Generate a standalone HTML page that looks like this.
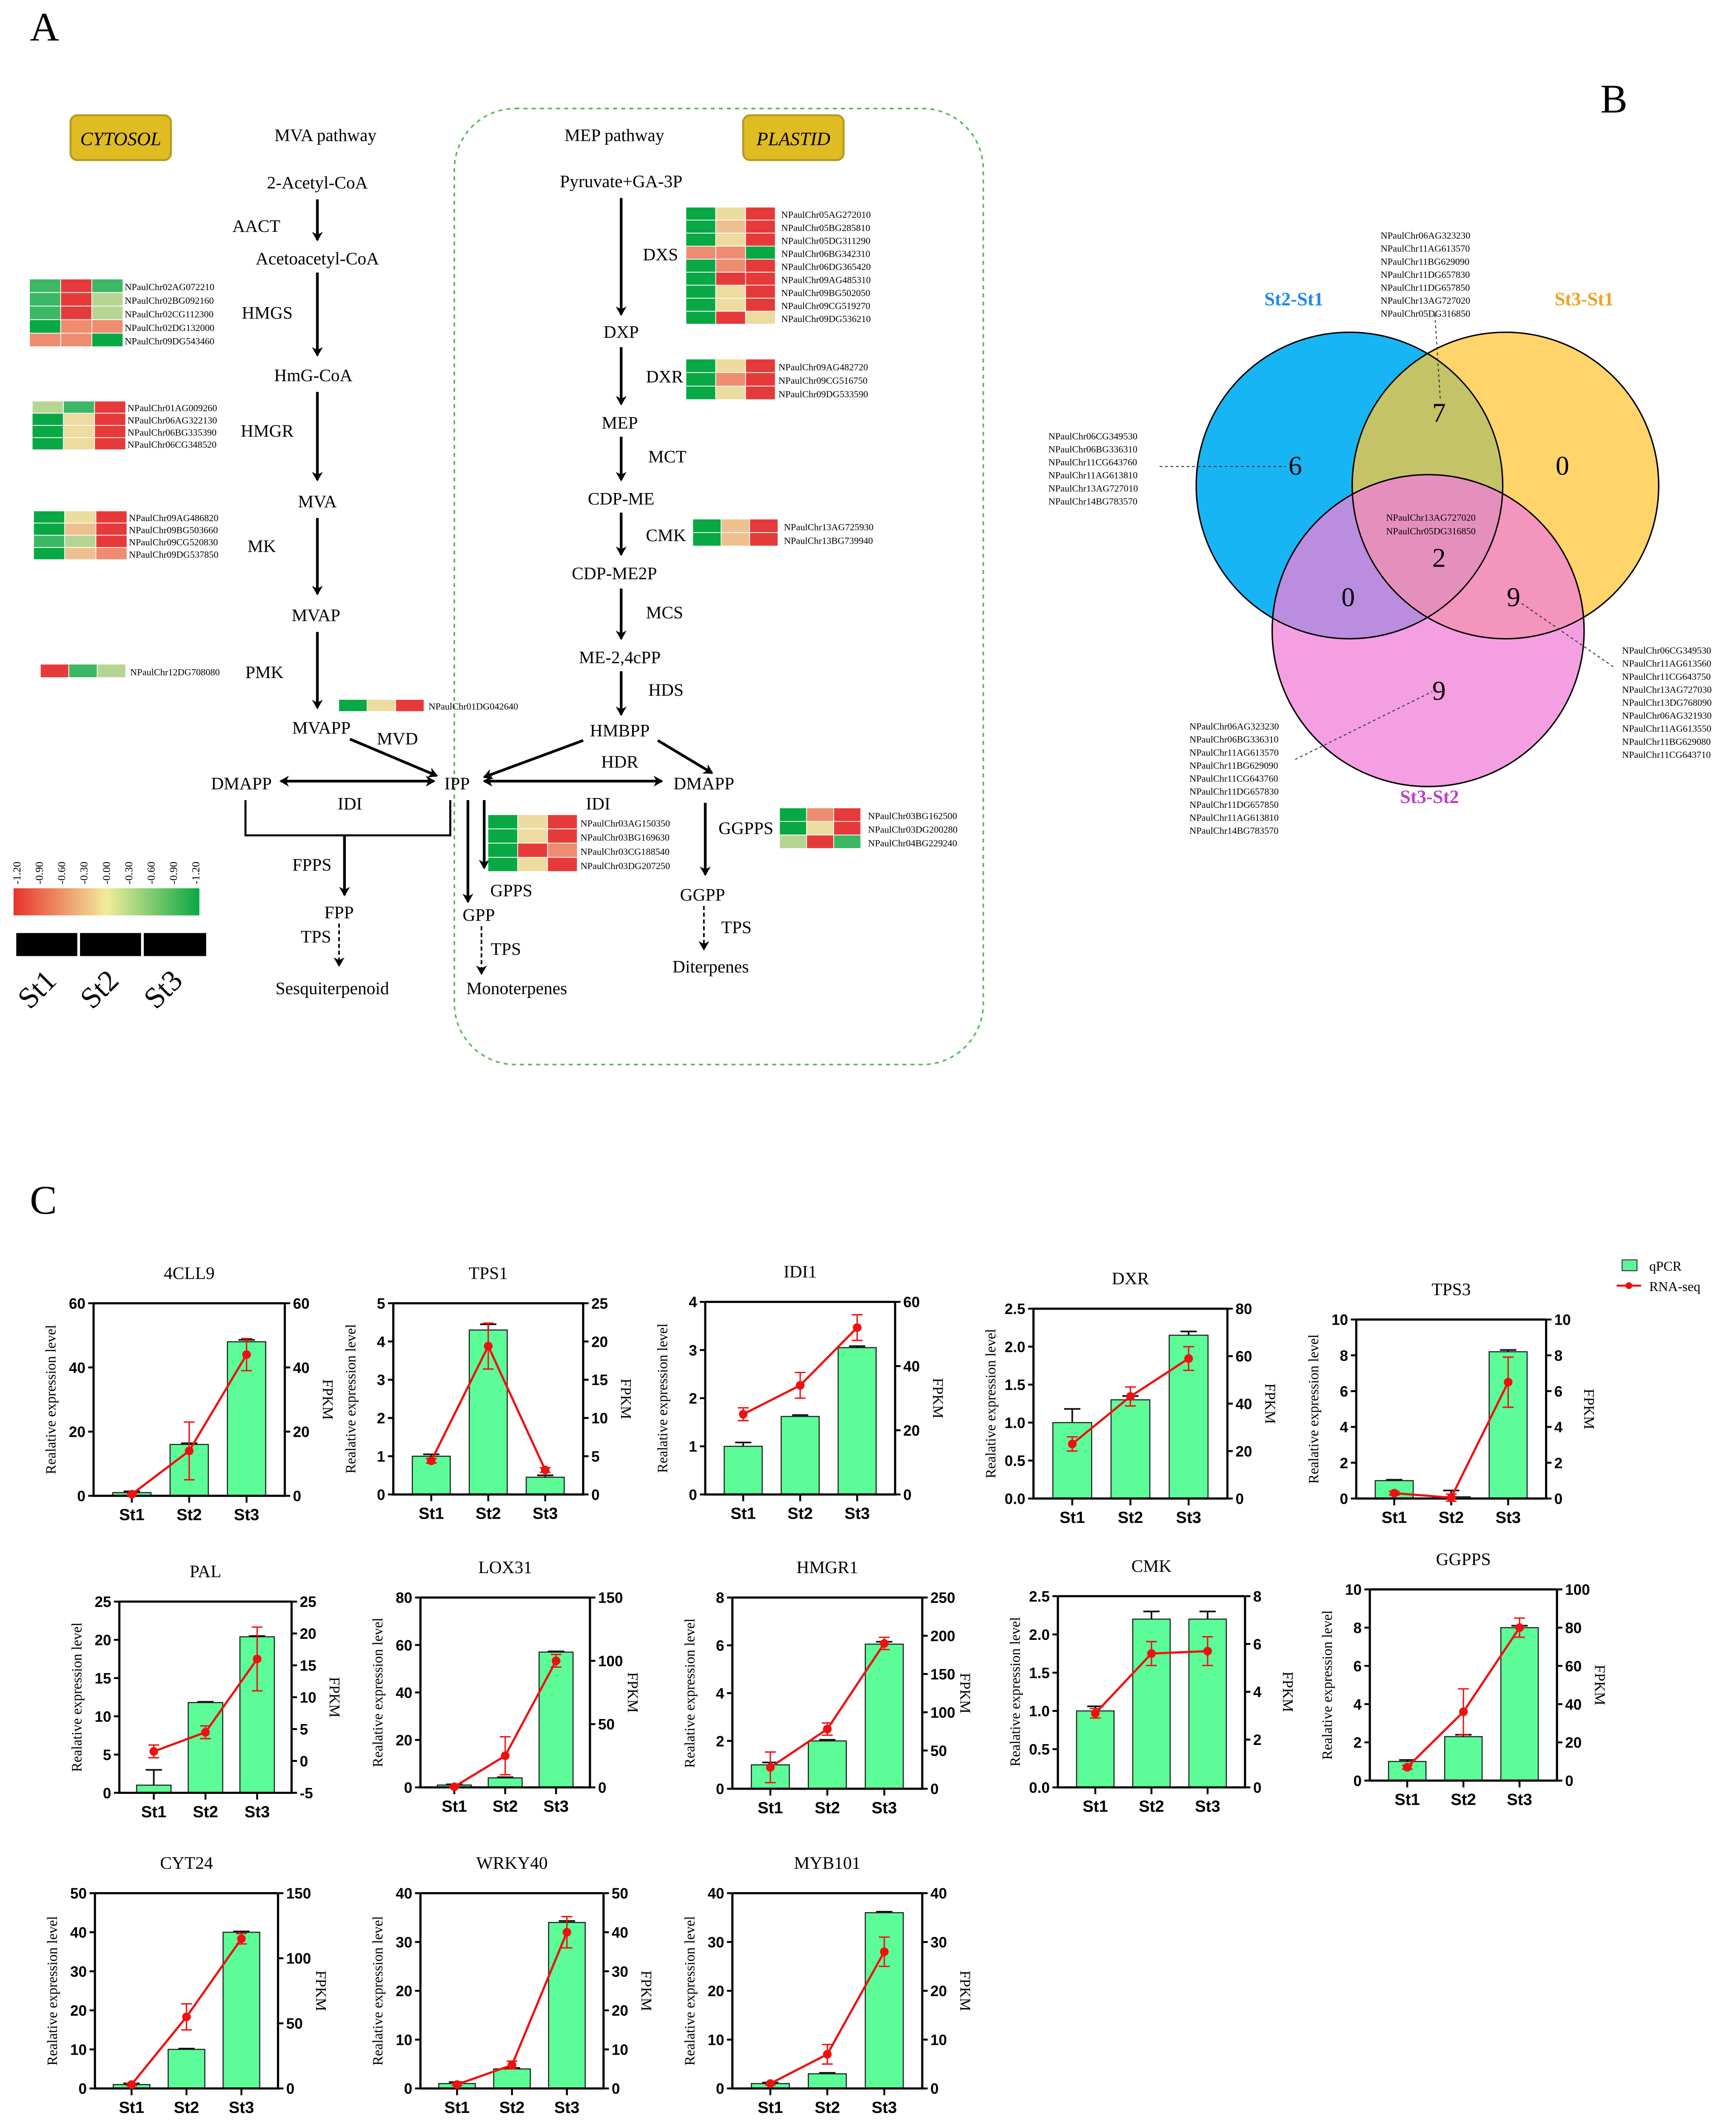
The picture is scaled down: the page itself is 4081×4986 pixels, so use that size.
<!DOCTYPE html>
<html><head><meta charset="utf-8"><style>
html,body{margin:0;padding:0;background:#fff;}
svg{display:block;}
.s{font-family:"Liberation Serif",serif;fill:#000;}
.n{font-family:"Liberation Sans Narrow","Liberation Sans",sans-serif;font-weight:bold;fill:#000;}
</style></head><body>
<svg id="fig" xmlns="http://www.w3.org/2000/svg" width="4081" height="4986" viewBox="0 0 1280 1564" preserveAspectRatio="none">
<defs>
<marker id="ah" markerWidth="8" markerHeight="8" refX="6" refY="4" orient="auto" markerUnits="userSpaceOnUse"><path d="M0,0 L7,4 L0,8 L2,4 z" fill="#000"/></marker>
<marker id="ahs" markerWidth="8" markerHeight="8" refX="1" refY="4" orient="auto" markerUnits="userSpaceOnUse"><path d="M7,0 L0,4 L7,8 L5,4 z" fill="#000"/></marker>
<linearGradient id="lg" x1="0" x2="1" y1="0" y2="0"><stop offset="0" stop-color="#e8322e"/><stop offset="0.5" stop-color="#f2ec9a"/><stop offset="1" stop-color="#08a845"/></linearGradient>
</defs>
<rect width="1280" height="1564" fill="#fff"/>
<text class="s" x="22" y="30" font-size="30">A</text>
<text class="s" x="1180" y="83" font-size="30">B</text>
<text class="s" x="22" y="895" font-size="30">C</text>

<g id="pathway">
<rect x="335" y="80" width="390" height="705" rx="45" fill="none" stroke="#5cb85c" stroke-width="1.2" stroke-dasharray="3,3"/>
<g><rect x="52" y="85" width="74" height="33" rx="5" fill="#dfbd22" stroke="#b89a20" stroke-width="1.5"/><text class="s" x="89" y="107" font-size="14" font-style="italic" text-anchor="middle">CYTOSOL</text></g>
<g><rect x="548" y="85" width="74" height="33" rx="5" fill="#dfbd22" stroke="#b89a20" stroke-width="1.5"/><text class="s" x="585" y="107" font-size="14" font-style="italic" text-anchor="middle">PLASTID</text></g>
<g class="s" font-size="13" text-anchor="middle" id="ptext"></g>
<g id="parrows" stroke="#000" stroke-width="2" fill="none"></g>
<g id="heatmaps"></g>
<g>
<rect x="10" y="655" width="137" height="20" fill="url(#lg)"/>
<g id="scaleticks" class="s" font-size="8"></g>
<rect x="12" y="688" width="45" height="17" fill="#000"/><rect x="59" y="688" width="45" height="17" fill="#000"/><rect x="106" y="688" width="46" height="17" fill="#000"/>
<text class="s" font-size="22" transform="translate(22,745) rotate(-45)">St1</text>
<text class="s" font-size="22" transform="translate(68,745) rotate(-45)">St2</text>
<text class="s" font-size="22" transform="translate(115,745) rotate(-45)">St3</text>
</g>
</g>

<g id="venn">
<circle cx="995" cy="358" r="113" fill="#00aef5" stroke="#000" stroke-width="1" opacity="0.9"/>
<circle cx="1110" cy="358" r="113" fill="#ffc83a" stroke="#000" stroke-width="1" opacity="0.75"/>
<circle cx="1053" cy="465" r="115" fill="#f080d8" stroke="#000" stroke-width="1" opacity="0.75"/>
<circle cx="995" cy="358" r="113" fill="none" stroke="#000"/><circle cx="1110" cy="358" r="113" fill="none" stroke="#000"/><circle cx="1053" cy="465" r="115" fill="none" stroke="#000"/>
<text x="954" y="225" font-size="14" font-weight="bold" fill="#1e88f0" text-anchor="middle" font-family="Liberation Serif,serif">St2-St1</text>
<text x="1168" y="225" font-size="14" font-weight="bold" fill="#f0a020" text-anchor="middle" font-family="Liberation Serif,serif">St3-St1</text>
<text x="1054" y="592" font-size="14" font-weight="bold" fill="#c040c8" text-anchor="middle" font-family="Liberation Serif,serif">St3-St2</text>
<g class="s" font-size="20" text-anchor="middle">
<text x="955" y="350">6</text><text x="1061" y="311">7</text><text x="1152" y="350">0</text><text x="1061" y="418">2</text><text x="994" y="447">0</text><text x="1116" y="447">9</text><text x="1061" y="516">9</text></g>
<text class="s" font-size="7" x="1055" y="384" text-anchor="middle">NPaulChr13AG727020</text>
<text class="s" font-size="7" x="1055" y="394" text-anchor="middle">NPaulChr05DG316850</text>
<g id="vennlists" class="s" font-size="7"></g>
<g stroke="#333" stroke-width="0.7" stroke-dasharray="2,2" fill="none">
<line x1="1058" y1="232" x2="1062" y2="295"/><line x1="855" y1="344" x2="948" y2="344"/><line x1="1122" y1="445" x2="1190" y2="492"/><line x1="955" y1="560" x2="1056" y2="510"/></g>
</g>

<g id="charts"></g>
<g>
<rect x="1196" y="929" width="11" height="8" fill="#5cf59a" stroke="#333" stroke-width="0.7"/>
<text class="s" x="1216" y="937" font-size="10">qPCR</text>
<line x1="1192" y1="948" x2="1210" y2="948" stroke="#e81010" stroke-width="1.5"/><circle cx="1201" cy="948" r="2.5" fill="#e81010"/>
<text class="s" x="1216" y="952" font-size="10">RNA-seq</text>
</g>
</svg>
<script>
const NS='http://www.w3.org/2000/svg';
function mk(p,tag,at,txt){const e=document.createElementNS(NS,tag);for(const k in at)e.setAttribute(k,at[k]);if(txt!==undefined)e.textContent=txt;p.appendChild(e);return e;}
const pt=document.getElementById('ptext');
const labels=[["MVA pathway",240,104],["2-Acetyl-CoA",234,139],["AACT",189,171],["Acetoacetyl-CoA",234,195],["HMGS",197,235],["HmG-CoA",231,281],["HMGR",197,322],["MVA",234,374],["MK",193,407],["MVAP",233,458],["PMK",195,500],["MVAPP",237,541],["MVD",293,549],["IPP",337,582],["DMAPP",178,582],["IDI",258,597],["FPPS",230,642],["FPP",250,677],["TPS",233,695],["Sesquiterpenoid",245,733],["GPP",353,679],["GPPS",377,661],["TPS",373,704],["Monoterpenes",381,733],
["MEP pathway",453,104],["Pyruvate+GA-3P",458,138],["DXS",487,192],["DXP",458,249],["DXR",490,282],["MEP",457,316],["MCT",492,341],["CDP-ME",458,372],["CMK",491,399],["CDP-ME2P",453,427],["MCS",490,456],["ME-2,4cPP",457,489],["HDS",491,513],["HMBPP",457,543],["HDR",457,566],["DMAPP",519,582],["IDI",441,597],["GGPPS",550,615],["GGPP",518,664],["TPS",543,688],["Diterpenes",524,717]];
for(const [t,x,y] of labels){const e=mk(pt,'text',{x:x,y:y},t);

}
const pa=document.getElementById('parrows');
const arrows=[[234,147,234,177],[234,201,234,262],[234,289,234,354],[234,382,234,438],[234,466,234,522],[258,545,322,572],[458,146,458,232],[458,256,458,298],[458,322,458,354],[458,378,458,409],[458,434,458,471],[458,495,458,527],[430,546,357,573],[485,546,525,570],[520,592,520,645],[254,616,254,660],[345,590,345,665],[357,590,357,640]];
for(const a of arrows){const e=mk(pa,'line',{x1:a[0],y1:a[1],x2:a[2],y2:a[3],'marker-end':'url(#ah)'});

}
for(const a of [[207,576,320,576],[357,576,488,576]]){const e=mk(pa,'line',{x1:a[0],y1:a[1],x2:a[2],y2:a[3],'marker-end':'url(#ah)','marker-start':'url(#ahs)'});

}
mk(pa,'polyline',{points:'181,590 181,616 332,616 332,590','stroke-width':1.5});
for(const a of [[250,681,250,712],[355,683,355,718],[519,668,519,700]]){const e=mk(pa,'line',{x1:a[0],y1:a[1],x2:a[2],y2:a[3],'stroke-dasharray':'3,2','stroke-width':1.2,'marker-end':'url(#ah)'});

}
const C={G:'#08a845',g:'#3cb765',l:'#b6d593',y:'#ecdca0',o:'#eec090',s:'#ee8c70',r:'#e63a3a'};
const hmG=document.getElementById('heatmaps');
function hm(name,x,y,cw,ch,rows,ids,lx){const g=mk(hmG,'g',{});


rows.forEach((r,i)=>{[...r].forEach((c,j)=>mk(g,'rect',{x:x+j*cw,y:y+i*ch,width:cw-0.6,height:ch-0.6,fill:C[c]}));
mk(g,'text',{x:lx,y:y+i*ch+ch*0.8,'font-size':7,class:'s'},'NPaulChr'+ids[i]);});}
hm('hmgs',22,206,23,10,['grg','grl','grl','Gss','ssG'],['02AG072210','02BG092160','02CG112300','02DG132000','09DG543460'],92);
hm('hmgr',24,296,23,9,['lgr','Gyr','Gyr','Gyr'],['01AG009260','06AG322130','06BG335390','06CG348520'],94);
hm('mk',25,377,23,9,['Gyr','Gor','glr','Gos'],['09AG486820','09BG503660','09CG520830','09DG537850'],95);
hm('pmk',30,490,21,10,['rgl'],['12DG708080'],96);
hm('mvd',250,516,21,9,['Gyr'],['01DG042640'],316);
hm('dxs',506,153,22,9.6,['Gyr','Gor','Gyr','ssG','Gsr','Grr','Gyr','Gyr','Gry'],['05AG272010','05BG285810','05DG311290','06BG342310','06DG365420','09AG485310','09BG502050','09CG519270','09DG536210'],576);
hm('dxr',506,265,22,10,['Gyr','Gsr','Gyr'],['09AG482720','09CG516750','09DG533590'],574);
hm('cmk',511,383,21,10,['Gor','Gor'],['13AG725930','13BG739940'],578);
hm('idi',360,601,22,10.5,['Gyr','Gyr','Grs','Gyr'],['03AG150350','03BG169630','03CG188540','03DG207250'],428);
hm('ggpps',575,596,20,10,['Gsr','Gyr','lrg'],['03BG162500','03DG200280','04BG229240'],640);
const st=document.getElementById('scaleticks');
['-1.20','-0.90','-0.60','-0.30','-0.00','-0.30','-0.60','-0.90','-1.20'].forEach((t,i)=>{const x=12+i*16.5;mk(st,'text',{transform:`translate(${x+3},652) rotate(-90)`},t);});
const vl=document.getElementById('vennlists');
function list(x,y,ids){ids.forEach((s,i)=>mk(vl,'text',{x:x,y:y+i*9.6},'NPaulChr'+s));}
list(1018,176,['06AG323230','11AG613570','11BG629090','11DG657830','11DG657850','13AG727020','05DG316850']);
list(773,324,['06CG349530','06BG336310','11CG643760','11AG613810','13AG727010','14BG783570']);
list(1196,482,['06CG349530','11AG613560','11CG643750','13AG727030','13DG768090','06AG321930','11AG613550','11BG629080','11CG643710']);
list(877,538,['06AG323230','06BG336310','11AG613570','11BG629090','11CG643760','11DG657830','11DG657850','11AG613810','14BG783570']);
</script>
<script>
const stages=['St1','St2','St3'];
const genes=['4CLL9','TPS1','IDI1','DXR','TPS3','PAL','LOX31','HMGR1','CMK','GGPPS','CYT24','WRKY40','MYB101'];
const qpcr=[[1,16,48],[1,4.3,0.45],[1,1.62,3.05],[1,1.3,2.15],[1,0.1,8.2],[1,11.8,20.4],[1,4,57],[1,2,6.05],[1,2.2,2.2],[1,2.3,8],[1,10,40],[1,4,34],[1,3,36]];
const qpcrErr=[[0.4,0.4,0.6],[0.05,0.15,0.05],[0.08,0.03,0.03],[0.18,0.05,0.05],[0.05,0.35,0.1],[2,0.1,0.1],[0.3,0.3,0.3],[0.1,0.05,0.1],[0.06,0.1,0.1],[0.08,0.1,0.1],[0.3,0.2,0.2],[0.3,0.2,0.3],[0.2,0.2,0.2]];
const rnaseq=[[0.5,14,44],[4.4,19.4,3.2],[25,34,52],[23,43,59],[0.3,0.05,6.5],[1.5,4.5,16],[0.5,25,100],[28,78,190],[3.1,5.6,5.7],[7,36,80],[3,55,115],[1,6,40],[1,7,28]];
const rnaseqErr=[[0.3,9,5],[0.3,3,0.3],[2,4,4],[3,4,5],[0.1,0.2,1.4],[1,1,5],[0.3,15,5],[20,8,8],[0.2,0.5,0.6],[1,12,5],[1,10,4],[0.3,1,4],[0.3,2,3]];
const leftTicks=[[0,20,40,60],[0,1,2,3,4,5],[0,1,2,3,4],[0,0.5,1.0,1.5,2.0,2.5],[0,2,4,6,8,10],[0,5,10,15,20,25],[0,20,40,60,80],[0,2,4,6,8],[0,0.5,1.0,1.5,2.0,2.5],[0,2,4,6,8,10],[0,10,20,30,40,50],[0,10,20,30,40],[0,10,20,30,40]];
const rightTicks=[[0,20,40,60],[0,5,10,15,20,25],[0,20,40,60],[0,20,40,60,80],[0,2,4,6,8,10],[-5,0,5,10,15,20,25],[0,50,100,150],[0,50,100,150,200,250],[0,2,4,6,8],[0,20,40,60,80,100],[0,50,100,150],[0,10,20,30,40,50],[0,10,20,30,40]];
const boxes=[[69,961,210,1103],[290,961,430,1102],[520,960,660,1102],[762,965,905,1105],[1000,973,1140,1105],[88,1181,215,1322],[310,1178,435,1318],[540,1178,680,1319],[780,1177,918,1318],[1010,1172,1148,1313],[70,1396,205,1540],[310,1396,445,1540],[540,1396,680,1540]];
const leftDigits=[0,0,0,1,0,0,0,0,1,0,0,0,0];
const root=document.getElementById('charts');
genes.forEach((gname,k)=>{
 const [x0,y0,x1,y1]=boxes[k];
 const lt=leftTicks[k], rt=rightTicks[k];
 const lmin=lt[0],lmax=lt[lt.length-1],rmin=rt[0],rmax=rt[rt.length-1];
 const yL=v=>y1-(v-lmin)/(lmax-lmin)*(y1-y0);
 const yR=v=>y1-(v-rmin)/(rmax-rmin)*(y1-y0);
 const xS=i=>x0+(x1-x0)*(0.2+0.3*i);
 const bw=(x1-x0)*0.2;
 const g=mk(root,'g',{});
 
 
 const t=mk(g,'text',{x:(x0+x1)/2,y:y0-18,'font-size':13,'text-anchor':'middle',class:'s'},gname);
 
 
 qpcr[k].forEach((v,i)=>{
  const r=mk(g,'rect',{x:xS(i)-bw/2,y:yL(v),width:bw,height:y1-yL(v),fill:'#5cfd98',stroke:'#222','stroke-width':0.8});
  
  
  const e=qpcrErr[k][i];
  mk(g,'path',{d:`M${xS(i)},${yL(v)} V${yL(v+e)} M${xS(i)-6},${yL(v+e)} H${xS(i)+6}`,stroke:'#111','stroke-width':1.2,fill:'none'});
 });
 mk(g,'path',{d:`M${x0},${y0} V${y1} H${x1} V${y0} M${x0},${y0} H${x1}`,stroke:'#000','stroke-width':1.6,fill:'none'});
 lt.forEach(v=>{mk(g,'line',{x1:x0-4,x2:x0,y1:yL(v),y2:yL(v),stroke:'#000','stroke-width':1.4});
  mk(g,'text',{x:x0-6,y:yL(v)+4,'font-size':11,'text-anchor':'end',class:'n'},v.toFixed(leftDigits[k]));});
 rt.forEach(v=>{mk(g,'line',{x1:x1,x2:x1+4,y1:yR(v),y2:yR(v),stroke:'#000','stroke-width':1.4});
  mk(g,'text',{x:x1+6,y:yR(v)+4,'font-size':11,class:'n'},String(v));});
 stages.forEach((s,i)=>{mk(g,'line',{x1:xS(i),x2:xS(i),y1:y1,y2:y1+5,stroke:'#000','stroke-width':1.4});
  mk(g,'text',{x:xS(i),y:y1+18,'font-size':12,'text-anchor':'middle',class:'n'},s);});
 mk(g,'text',{transform:`translate(${x0-28},${(y0+y1)/2}) rotate(-90)`,'font-size':10.5,'text-anchor':'middle',class:'s'},'Realative expression level');
 mk(g,'text',{transform:`translate(${x1+28},${(y0+y1)/2}) rotate(90)`,'font-size':11,'text-anchor':'middle',class:'s'},'FPKM');
 const pts=rnaseq[k].map((v,i)=>`${xS(i)},${yR(v)}`).join(' ');
 const pl=mk(g,'polyline',{points:pts,fill:'none',stroke:'#f01010','stroke-width':1.6});
 
 
 rnaseq[k].forEach((v,i)=>{const e=rnaseqErr[k][i];
  mk(g,'path',{d:`M${xS(i)},${yR(v-e)} V${yR(v+e)} M${xS(i)-4},${yR(v+e)} H${xS(i)+4} M${xS(i)-4},${yR(v-e)} H${xS(i)+4}`,stroke:'#f01010','stroke-width':1,fill:'none'});
  const c=mk(g,'circle',{cx:xS(i),cy:yR(v),r:3.2,fill:'#f01010'});
  
  });
});
</script>
</body></html>
